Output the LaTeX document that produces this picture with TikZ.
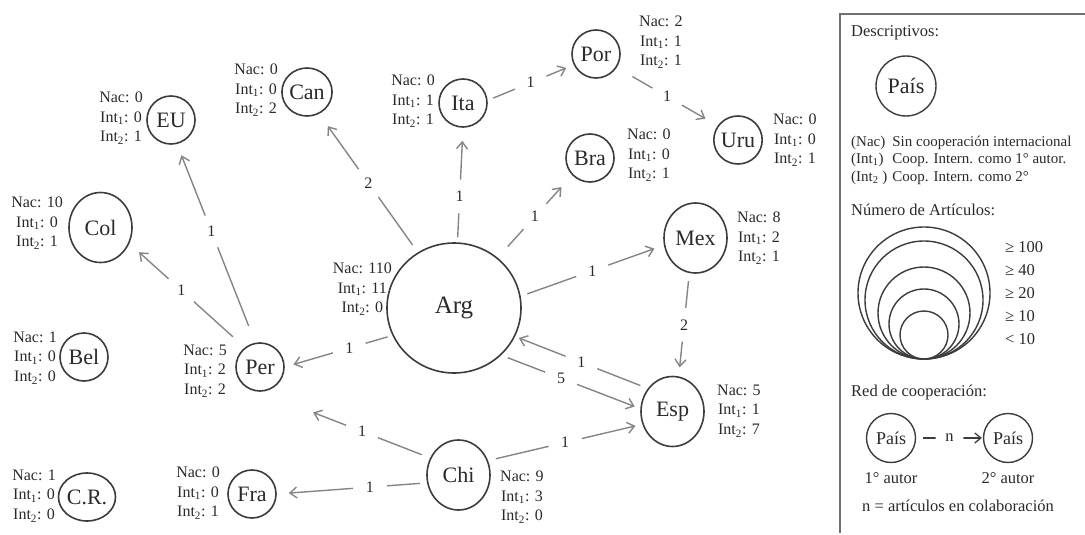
\documentclass[tikz,border=0pt]{standalone}
\usepackage{fontspec}
\setmainfont{Liberation Serif}
\usetikzlibrary{arrows.meta,shapes.geometric}
\definecolor{txtc}{HTML}{2A2A2A}
\definecolor{edgec}{HTML}{858585}
\definecolor{circc}{HTML}{3C3C3C}
\definecolor{framec}{HTML}{707070}
\newcommand{\nstats}[3]{Nac: #1\\Int\textsubscript{1}: #2\\Int\textsubscript{2}: #3}
\begin{document}
\begin{tikzpicture}[x=1pt,y=-1pt,
  ctry/.style={ellipse,draw=circc,line width=1.6pt,fill=white,inner sep=0pt,text=txtc,font=\fontsize{22}{24}\selectfont},
  csmall/.style={ctry,minimum width=48pt,minimum height=48pt},
  cmid/.style={ctry,minimum width=63pt,minimum height=70pt},
  cbig/.style={ctry,minimum width=134pt,minimum height=130pt,font=\fontsize{25}{28}\selectfont},
  info/.style={align=center,inner sep=0pt,text=txtc,font=\fontsize{16}{19.5}\selectfont},
  link/.style={draw=edgec,line width=1.4pt,-{Straight Barb[length=7pt,width=11pt]},shorten <=8pt,shorten >=10pt},
  nlab/.style={circle,fill=white,inner sep=0pt,minimum size=34pt,text=txtc,font=\fontsize{16}{18}\selectfont},
  leg/.style={inner sep=0pt,text=txtc,font=\fontsize{16.5}{19}\selectfont},
  legc/.style={circle,draw=circc,line width=1.4pt,inner sep=0pt},
]
\useasboundingbox (0,0) rectangle (1085,535);

% country nodes
\node[csmall] (eu)  at (171,120) {EU};
\node[cmid]   (col) at (100.5,227.5) {Col};
\node[csmall] (can) at (307,92) {Can};
\node[csmall] (ita) at (463,103) {Ita};
\node[csmall] (por) at (596,54) {Por};
\node[csmall] (uru) at (738,140) {Uru};
\node[csmall] (bra) at (590,158) {Bra};
\node[cmid]   (mex) at (695.5,238) {Mex};
\node[cmid]   (esp) at (672.5,411.5) {Esp};
\node[cmid]   (chi) at (458.5,475) {Chi};
\node[cbig]   (arg) at (454,308) {Arg};
\node[csmall] (per) at (260,367) {Per};
\node[csmall] (bel) at (84,357) {Bel};
\node[csmall] (fra) at (252,494) {Fra};
\node[csmall] (cr)  at (87,497) {C.R.};

% connectors
\draw[link,shorten >=15pt,shorten <=9pt] (arg.123) -- node[nlab]{2} (can.-61);
\draw[link,shorten >=13pt,shorten <=5pt] (arg.87) -- node[nlab,pos=0.4]{1} (ita.-90);
\draw[link,shorten >=16pt,shorten <=15pt] (arg.49) -- node[nlab]{1} (bra.224);
\draw[link,shorten <=7pt] (arg.10) -- node[nlab]{1} (mex.193);
\draw[link,shorten >=9pt,shorten <=5pt] (arg.204) -- node[nlab,pos=0.4]{1} (per.east);
\draw[link,shorten >=4pt] (esp.137) -- node[nlab]{1} (arg.-25);
\draw[link,shorten >=6pt,shorten <=7pt] (arg.-45) -- node[nlab,pos=0.43]{5} (esp.175);
\draw[link,shorten >=9pt] (mex.260) -- node[nlab]{2} (esp.80);
\draw[link,shorten >=7pt] (chi.26) -- node[nlab]{1} (esp.203);
\draw[link,shorten >=57pt,shorten <=9pt] (chi.149) -- node[nlab,pos=0.4]{1} (per.south);
\draw[link,shorten >=12pt,shorten <=7pt] (chi.194) -- node[nlab,pos=0.38]{1} (fra.east);
\draw[link,shorten >=13pt,shorten <=16pt] (per.128) -- node[nlab,pos=0.55]{1} (col.-29);
\draw[link,shorten >=12pt,shorten <=18pt] (per.101) -- node[nlab,pos=0.56]{1} (eu.-76);
\draw[link,shorten >=8pt,shorten <=6pt] (ita.6) -- node[nlab]{1} (por.206);
\draw[link,shorten >=14pt,shorten <=18pt] (por.-33) -- node[nlab]{1} (uru.145);

% statistics
\node[info,anchor=east] (eui)  at (143,118) {\nstats{0}{0}{1}};
\node[info,anchor=east] (coli) at (63,223) {\nstats{10}{0}{1}};
\node[info,anchor=east] (cani) at (278,90) {\nstats{0}{0}{2}};
\node[info,anchor=east] (itai) at (435,101) {\nstats{0}{1}{1}};
\node[info,anchor=west] (pori) at (639,42) {\nstats{2}{1}{1}};
\node[info,anchor=west] (brai) at (627,155) {\nstats{0}{0}{1}};
\node[info,anchor=west] (urui) at (773,140) {\nstats{0}{0}{1}};
\node[info,anchor=west] (mexi) at (737,238) {\nstats{8}{2}{1}};
\node[info,anchor=west] (espi) at (717,411) {\nstats{5}{1}{7}};
\node[info,anchor=west] (chii) at (500,497) {\nstats{9}{3}{0}};
\node[info,anchor=east] (argi) at (392,289) {\nstats{110}{11}{0}};
\node[info,anchor=east] (peri) at (227,371) {\nstats{5}{2}{2}};
\node[info,anchor=east] (beli) at (57,358) {\nstats{1}{0}{0}};
\node[info,anchor=east] (frai) at (220,493) {\nstats{0}{0}{1}};
\node[info,anchor=east] (cri)  at (56,496) {\nstats{1}{0}{0}};

% legend
\draw[framec,line width=2.5pt] (1085,14) -- (840,14) -- (840,533);
\node[leg,anchor=west] (hd1) at (851,33) {Descriptivos:};
\node[legc,minimum size=60pt,font=\fontsize{22}{24}\selectfont,text=txtc] (lpais) at (906,86) {País};
\node[leg,anchor=west,font=\fontsize{15}{17.5}\selectfont] (desc) at (851,160) {\begin{tabular}{@{}l@{\hspace{5pt}}l@{}}(Nac) & Sin cooperación internacional\\(Int\textsubscript{1}) & Coop. Intern. como 1° autor.\\(Int\textsubscript{2} ) & Coop. Intern. como 2°\end{tabular}};
\node[leg,anchor=west] (hd2) at (851,210) {Número de Artículos:};
\foreach \r/\nm in {66/s1,59/s2,46/s3,35/s4,24/s5}{
  \node[legc,minimum size=2*\r pt] (\nm) at (924,359-\r) {};
}
\node[leg,anchor=west] (t1) at (1005,247) {≥ 100};
\node[leg,anchor=west] (t2) at (1005,270) {≥ 40};
\node[leg,anchor=west] (t3) at (1005,293) {≥ 20};
\node[leg,anchor=west] (t4) at (1005,316) {≥ 10};
\node[leg,anchor=west] (t5) at (1005,339) {< 10};
\node[leg,anchor=west] (hd3) at (851,393) {Red de cooperación:};
\node[legc,minimum size=49pt,font=\fontsize{18}{20}\selectfont,text=txtc] (lp1) at (891,438) {País};
\node[legc,minimum size=49pt,font=\fontsize{18}{20}\selectfont,text=txtc] (lp2) at (1008,438) {País};
\draw[draw=circc,line width=1.3pt,-{Straight Barb[length=6pt,width=10pt]},shorten <=7pt,shorten >=1pt] (lp1) -- node[circle,fill=white,inner sep=0pt,minimum size=28pt,text=txtc,font=\fontsize{16.5}{18}\selectfont]{n} (lp2);
\node[leg] (a1) at (891,478) {1° autor};
\node[leg] (a2) at (1008,478) {2° autor};
\node[leg,anchor=west] (nn) at (862,506) {n = artículos en colaboración};
\end{tikzpicture}
\end{document}
